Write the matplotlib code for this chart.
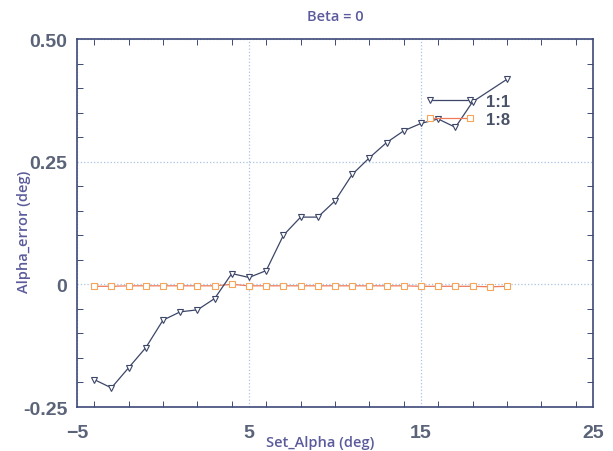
"""Alpha error against set alpha at zero beta, for two ratio settings."""

import matplotlib

matplotlib.use("Agg")

import matplotlib.pyplot as plt
from matplotlib.ticker import MultipleLocator

# Set angle of attack (deg)
SET_ALPHA_1_1 = [-4, -3, -2, -1, 0, 1, 2, 3, 4, 5, 6, 7, 8, 9, 10, 11, 12,
                 13, 14, 15, 16, 17, 18, 20]
ALPHA_ERROR_1_1 = [-0.194, -0.211, -0.170, -0.129, -0.073, -0.056, -0.052,
                   -0.029, 0.022, 0.014, 0.028, 0.100, 0.137, 0.137, 0.170,
                   0.224, 0.258, 0.289, 0.313, 0.328, 0.337, 0.320, 0.372,
                   0.418]

SET_ALPHA_1_8 = [-4, -3, -2, -1, 0, 1, 2, 3, 4, 5, 6, 7, 8, 9, 10, 11, 12,
                 13, 14, 15, 16, 17, 18, 19, 20]
ALPHA_ERROR_1_8 = [-0.004, -0.004, -0.003, -0.003, -0.003, -0.003, -0.003,
                   -0.003, 0.000, -0.003, -0.003, -0.003, -0.003, -0.003,
                   -0.003, -0.003, -0.003, -0.003, -0.003, -0.004, -0.004,
                   -0.004, -0.004, -0.005, -0.004]

X_TICKS = [-5, 5, 15, 25]
Y_TICKS = [-0.25, 0, 0.25, 0.50]
Y_TICK_LABELS = ["-0.25", "0", "0.25", "0.50"]

TICK_COLOR = "#5a6378"
LABEL_COLOR = "#5b5b9c"
AXIS_COLOR = "#3e4a78"

fig = plt.figure(figsize=(6.13, 4.52), dpi=100)
ax = fig.add_axes([0.1256, 0.0973, 0.8418, 0.8142])

ax.plot(SET_ALPHA_1_1, ALPHA_ERROR_1_1, color="#3c4668", lw=0.9,
        marker="v", ms=4.5, mfc="white", mec="#3c4668", mew=0.8,
        label="1:1", zorder=3)
ax.plot(SET_ALPHA_1_8, ALPHA_ERROR_1_8, color="#f07a5a", lw=0.9,
        marker="s", ms=4, mfc="white", mec="#f5a458", mew=0.8,
        label="1:8", zorder=2)

ax.set_xlim(-5, 25)
ax.set_ylim(-0.25, 0.50)
ax.set_xticks(X_TICKS)
ax.set_yticks(Y_TICKS)
ax.set_yticklabels(Y_TICK_LABELS)
ax.xaxis.set_minor_locator(MultipleLocator(2))
ax.yaxis.set_minor_locator(MultipleLocator(0.05))

ax.tick_params(which="both", direction="in", top=True, right=True,
               color=AXIS_COLOR)
ax.tick_params(which="major", length=0, labelsize=14,
               labelcolor=TICK_COLOR)
ax.tick_params(which="minor", length=4, width=0.7)
ax.tick_params(axis="x", which="major", pad=12)
ax.tick_params(axis="y", which="major", pad=7)
for lbl in ax.get_xticklabels() + ax.get_yticklabels():
    lbl.set_fontweight("bold")
    lbl.set_family("Liberation Sans")

for spine in ax.spines.values():
    spine.set_color(AXIS_COLOR)
    spine.set_linewidth(1.2)

ax.grid(which="major", color="#a9c3e3", linestyle=":", linewidth=0.9)

ax.set_title("Beta = 0", fontsize=10.5, color=LABEL_COLOR, family="Open Sans",
             fontweight="semibold", pad=14)
ax.set_xlabel("Set_Alpha (deg)", fontsize=10.5, color=LABEL_COLOR,
              family="Open Sans", fontweight="semibold")
ax.set_ylabel("Alpha_error (deg)", fontsize=10.5, color=LABEL_COLOR,
              family="Open Sans", fontweight="semibold")
ax.xaxis.set_label_coords(0.471, -0.076)
ax.yaxis.set_label_coords(-0.09, 0.48)

leg = ax.legend(loc="upper left", bbox_to_anchor=(0.674, 0.85),
                frameon=False, numpoints=2, handlelength=3.0,
                handletextpad=0.7, labelspacing=0.15, borderpad=0,
                borderaxespad=0, prop={"family": "Liberation Sans",
                                       "size": 12, "weight": "bold"})
for txt in leg.get_texts():
    txt.set_color("#4a5268")
    txt.set_bbox(dict(facecolor="white", edgecolor="none", pad=0.5))
leg.set_zorder(5)

fig.savefig("out.png", dpi=100)
